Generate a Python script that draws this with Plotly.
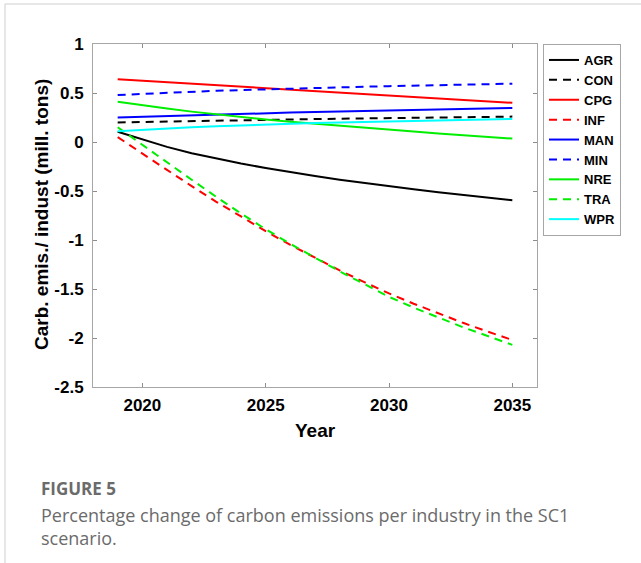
import plotly.graph_objects as go

# Years simulated
years = list(range(2019, 2036))

# Change in carbon emissions per industry (mill. tons), SC1 scenario
agr = [0.105, 0.025, -0.05, -0.115, -0.17, -0.22, -0.265, -0.308, -0.348, -0.385,
       -0.42, -0.452, -0.483, -0.513, -0.542, -0.569, -0.595]
con = [0.20, 0.205, 0.21, 0.215, 0.219, 0.223, 0.227, 0.231, 0.235, 0.238,
       0.241, 0.244, 0.247, 0.250, 0.253, 0.256, 0.259]
cpg = [0.64, 0.625, 0.61, 0.595, 0.58, 0.565, 0.55, 0.535, 0.52, 0.505,
       0.49, 0.475, 0.46, 0.445, 0.43, 0.415, 0.40]
inf = [0.05, -0.12, -0.285, -0.45, -0.61, -0.76, -0.91, -1.05, -1.18, -1.31,
       -1.43, -1.545, -1.65, -1.75, -1.845, -1.935, -2.02]
man = [0.25, 0.258, 0.266, 0.273, 0.28, 0.287, 0.294, 0.300, 0.306, 0.312,
       0.318, 0.323, 0.328, 0.333, 0.338, 0.343, 0.348]
mne = [0.48, 0.492, 0.503, 0.513, 0.522, 0.53, 0.538, 0.545, 0.552, 0.558,
       0.564, 0.570, 0.575, 0.580, 0.585, 0.590, 0.595]
nre = [0.41, 0.374, 0.341, 0.31, 0.281, 0.254, 0.229, 0.206, 0.185, 0.165,
       0.145, 0.125, 0.106, 0.088, 0.07, 0.052, 0.035]
tra = [0.15, -0.03, -0.21, -0.385, -0.56, -0.73, -0.89, -1.04, -1.18, -1.32,
       -1.45, -1.58, -1.69, -1.79, -1.89, -1.98, -2.07]
wpr = [0.11, 0.125, 0.138, 0.15, 0.16, 0.17, 0.178, 0.186, 0.193, 0.199,
       0.205, 0.211, 0.216, 0.221, 0.226, 0.230, 0.235]

series = [
    ("AGR", agr, "#000000", "solid"),
    ("CON", con, "#000000", "8px,6px"),
    ("CPG", cpg, "#ff0000", "solid"),
    ("INF", inf, "#ff0000", "8px,6px"),
    ("MAN", man, "#0000ff", "solid"),
    ("MIN", mne, "#0000ff", "8px,6px"),
    ("NRE", nre, "#00ee00", "solid"),
    ("TRA", tra, "#00ee00", "8px,6px"),
    ("WPR", wpr, "#00ffff", "solid"),
]

y_ticks = [1, 0.5, 0, -0.5, -1, -1.5, -2, -2.5]
y_tick_text = ["1", "0.5", "0", "-0.5", "-1", "-1.5", "-2", "-2.5"]
x_ticks = [2020, 2025, 2030, 2035]
x_tick_text = ["2020", "2025", "2030", "2035"]

W, H = 641, 563
L, R, T, B = 93, 104, 44, 176
pw, ph = W - L - R, H - T - B


def px_x(x):
    return (x - L) / pw


def px_y(y):
    return 1 - (y - T) / ph


def bold(labels):
    return [f"<b>{s}</b>" for s in labels]


fig = go.Figure()
for name, vals, color, dash in series:
    fig.add_trace(go.Scatter(
        x=years, y=vals, mode="lines", name=f"<b>{name}</b>",
        line=dict(color=color, width=2, dash=dash),
    ))

axis_font = dict(family="Liberation Sans, Arial, sans-serif", size=17, color="#000000")

fig.update_xaxes(
    range=[2018, 2036], tickvals=x_ticks, ticktext=bold(x_tick_text),
    ticks="inside", ticklen=4, tickcolor="#8c8c8c", showline=True,
    linecolor="#a6a6a6", linewidth=1, mirror="ticks", showgrid=False,
    zeroline=False, tickfont=axis_font, ticklabelstandoff=3,
)
fig.update_yaxes(
    range=[-2.5, 1], tickvals=y_ticks, ticktext=bold(y_tick_text),
    ticks="inside", ticklen=4, tickcolor="#8c8c8c", showline=True,
    linecolor="#a6a6a6", linewidth=1, mirror="ticks", showgrid=False,
    zeroline=False, tickfont=axis_font, ticklabelstandoff=5,
)

caption_font = dict(family="Open Sans, sans-serif", size=18, color="#6b6b6b")

annotations = [
    dict(text="<b>Year</b>", x=0.5, y=px_y(430), xref="paper", yref="paper",
         showarrow=False, font=dict(axis_font, size=19), xanchor="center", yanchor="middle"),
    dict(text="<b>Carb. emis./ indust (mill. tons)</b>", x=px_x(42), y=px_y(215),
         xref="paper", yref="paper", showarrow=False, textangle=-90,
         font=dict(axis_font, size=19), xanchor="center", yanchor="middle"),
    dict(text="<b>FIGURE 5</b>", x=px_x(39), y=px_y(488), xref="paper", yref="paper",
         showarrow=False, xanchor="left", yanchor="middle",
         font=dict(caption_font, size=17)),
    dict(text="Percentage change of carbon emissions per industry in the SC1<br>scenario.",
         x=px_x(39), y=px_y(501), xref="paper", yref="paper", showarrow=False,
         xanchor="left", yanchor="top", align="left", font=caption_font),
]

shapes = [
    dict(type="line", xref="paper", yref="paper", x0=px_x(5), x1=px_x(W + 5),
         y0=px_y(4), y1=px_y(4), line=dict(color="#cfcfcf", width=1)),
    dict(type="line", xref="paper", yref="paper", x0=px_x(5), x1=px_x(5),
         y0=px_y(4), y1=px_y(H + 5), line=dict(color="#cfcfcf", width=1)),
]

fig.update_layout(
    width=W, height=H,
    margin=dict(l=L, r=R, t=T, b=B),
    paper_bgcolor="#ffffff", plot_bgcolor="#ffffff",
    showlegend=True,
    legend=dict(
        x=px_x(543), y=1, xanchor="left", yanchor="top",
        bordercolor="#a6a6a6", borderwidth=1, bgcolor="#ffffff",
        font=dict(family="Liberation Sans, Arial, sans-serif", size=13, color="#000000"),
        tracegroupgap=0, itemwidth=30,
    ),
    annotations=annotations,
    shapes=shapes,
)

fig.write_html("out.html")
